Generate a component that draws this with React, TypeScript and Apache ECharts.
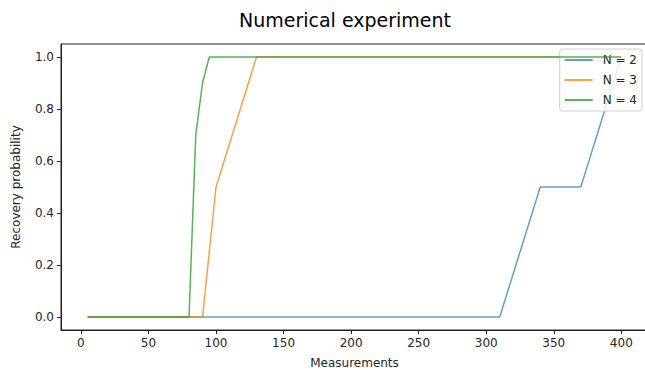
import React, { useEffect, useRef } from "react";
import * as echarts from "echarts";

const xN2 = [5, 310, 340, 370, 400];
const yN2 = [0, 0, 0.5, 0.5, 1.0];
const xN3 = [5, 90, 100, 130, 400];
const yN3 = [0, 0, 0.5, 1.0, 1.0];
const xN4 = [5, 80, 85, 90, 95, 400];
const yN4 = [0, 0, 0.7, 0.9, 1.0, 1.0];
const seriesNames = ["N = 2", "N = 3", "N = 4"];
const xTicks = [0, 50, 100, 150, 200, 250, 300, 350, 400];
const yTicks = [0, 0.2, 0.4, 0.6, 0.8, 1.0];

const pair = (xs: number[], ys: number[]) => xs.map((x, i) => [x, ys[i]]);

export default function App() {
  const ref = useRef<HTMLDivElement>(null);
  useEffect(() => {
    document.body.style.margin = "0";
    const chart = echarts.init(ref.current!, null, { renderer: "svg" });
    const font = "DejaVu Sans";
    const colors = ["rgba(31,119,180,0.7)", "rgba(255,127,14,0.75)", "rgba(44,160,44,0.8)"];
    const datas = [pair(xN2, yN2), pair(xN3, yN3), pair(xN4, yN4)];
    chart.setOption({
      animation: false,
      backgroundColor: "#ffffff",
      textStyle: { fontFamily: font },
      title: {
        text: "Numerical experiment",
        left: 340,
        top: 5,
        textAlign: "center",
        textStyle: { fontFamily: font, fontSize: 19, fontWeight: "normal", color: "#000" },
      },
      legend: {
        right: 3,
        top: 49,
        orient: "vertical",
        data: seriesNames,
        icon: "rect",
        itemWidth: 28,
        itemHeight: 2,
        itemGap: 8,
        backgroundColor: "rgba(255,255,255,0.85)",
        borderColor: "#d0d0d0",
        borderWidth: 1,
        borderRadius: 3,
        padding: [5, 5, 5, 5],
        textStyle: { fontFamily: font, fontSize: 12, color: "#262626", padding: [0, 0, 0, 5] },
      },
      grid: {
        left: 61,
        top: 44,
        width: 587,
        height: 286,
        show: true,
        borderColor: "#222",
        borderWidth: 1,
        containLabel: false,
        outerBoundsMode: "none",
      },
      xAxis: {
        type: "value",
        min: -14.75,
        max: 419.75,
        name: "Measurements",
        nameLocation: "middle",
        nameGap: 27,
        nameTextStyle: { fontFamily: font, fontSize: 12, color: "#262626" },
        axisLine: { show: true, onZero: false, lineStyle: { color: "#222", width: 1 } },
        axisTick: { show: true, length: 4, customValues: xTicks, lineStyle: { color: "#222" } },
        axisLabel: { customValues: xTicks, fontFamily: font, fontSize: 12, color: "#262626", margin: 7 },
        splitLine: { show: false },
      },
      yAxis: {
        type: "value",
        min: -0.05,
        max: 1.05,
        name: "Recovery probability",
        nameLocation: "middle",
        nameGap: 39,
        nameTextStyle: { fontFamily: font, fontSize: 12, color: "#262626" },
        axisLine: { show: true, onZero: false, lineStyle: { color: "#222", width: 1 } },
        axisTick: { show: true, length: 4, customValues: yTicks, lineStyle: { color: "#222" } },
        axisLabel: {
          customValues: yTicks,
          fontFamily: font,
          fontSize: 12,
          color: "#262626",
          margin: 7,
          formatter: (v: number) => v.toFixed(1),
        },
        splitLine: { show: false },
      },
      series: seriesNames.map((name, i) => ({
        name,
        type: "line",
        data: datas[i],
        showSymbol: false,
        symbol: "none",
        color: colors[i],
        lineStyle: { color: colors[i], width: 1.5 },
        z: 2 + i,
      })),
    });
    return () => chart.dispose();
  }, []);
  return <div ref={ref} style={{ width: 645, height: 370, overflow: "hidden" }} />;
}
